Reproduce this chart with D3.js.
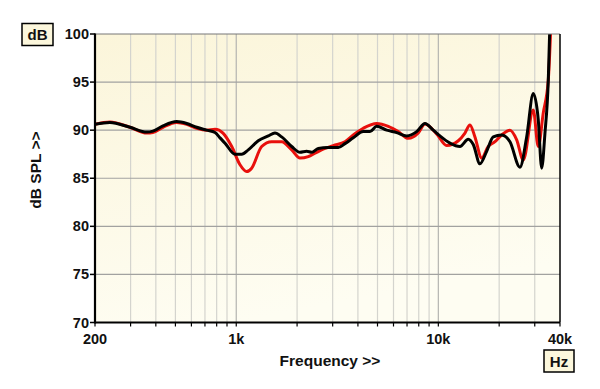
<!DOCTYPE html>
<html>
<head>
<meta charset="utf-8">
<script src="https://cdn.jsdelivr.net/npm/d3@7"></script>
<style>
  body { margin: 0; background: #fff; }
  svg text { font-family: "Liberation Sans", Arial, sans-serif; font-weight: bold; fill: #111; }
</style>
</head>
<body>
<svg id="chart"></svg>
<script>
// frequency (Hz) / level (dB)
const blackFreq = [200, 237, 298, 361, 387, 434, 507, 569, 637, 714, 785, 831, 880, 986, 1064, 1147, 1285, 1441, 1555, 1678, 1881, 2067, 2231, 2362, 2546, 2854, 3198, 3451, 3793, 4253, 4590, 4953, 5551, 6221, 6971, 7813, 8590, 9440, 10186, 11418, 12794, 14064, 14888, 16070, 17344, 18700, 20580, 22620, 25340, 27360, 29500, 31220, 32460, 33700, 35000, 35600]
const blackDb = [90.6, 90.8, 90.3, 89.8, 89.9, 90.45, 90.9, 90.7, 90.3, 90.0, 89.75, 89.2, 88.65, 87.5, 87.5, 87.95, 88.9, 89.4, 89.7, 89.3, 88.3, 87.7, 87.8, 87.7, 88.1, 88.2, 88.2, 88.6, 89.2, 89.85, 89.85, 90.4, 90.0, 89.75, 89.4, 89.85, 90.7, 90.0, 89.4, 88.65, 88.3, 89.05, 88.5, 86.5, 87.8, 89.3, 89.5, 88.8, 86.15, 89.3, 93.8, 91.1, 86.05, 89.7, 95.2, 100.6]

const redFreq = [200, 237, 298, 361, 387, 434, 507, 569, 637, 714, 785, 860, 950, 1044, 1126, 1192, 1336, 1497, 1678, 1881, 2067, 2272, 2453, 2748, 3021, 3451, 3793, 4253, 4953, 5653, 6334, 7100, 7958, 8590, 9811, 11000, 12554, 13544, 14340, 15178, 16384, 17662, 19064, 20580, 22620, 24420, 26320, 29500, 31220, 33060, 35000, 36000]
const redDb = [90.6, 90.85, 90.3, 89.7, 89.75, 90.3, 90.8, 90.6, 90.2, 90.0, 90.1, 89.7, 88.3, 86.4, 85.7, 86.05, 88.3, 88.8, 88.8, 87.95, 87.1, 87.25, 87.6, 88.1, 88.4, 88.8, 89.5, 90.2, 90.7, 90.4, 89.85, 89.15, 89.7, 90.65, 89.6, 88.4, 88.9, 89.7, 90.55, 89.3, 87.1, 88.3, 88.8, 89.5, 90.0, 89.0, 86.9, 92.1, 88.3, 91.8, 95.2, 100.6]

const yTicks = [70, 75, 80, 85, 90, 95, 100]
const xGrid = [300, 400, 500, 600, 700, 800, 900, 1000, 2000, 3000, 4000, 5000, 6000, 7000, 8000, 9000, 10000, 20000, 30000]
const xLabels = [[200, "200"], [1000, "1k"], [10000, "10k"], [40000, "40k"]]

const width = 600, height = 389
const m = {left: 95, right: 560, top: 34, bottom: 322.5}

const svg = d3.select("#chart").attr("width", width).attr("height", height)

const x = d3.scaleLog().domain([200, 40000]).range([m.left, m.right])
const y = d3.scaleLinear().domain([70, 100]).range([m.bottom, m.top])

// cream background, a bit paler towards the bottom
const defs = svg.append("defs")
const grad = defs.append("linearGradient")
  .attr("id", "bg").attr("x1", 0).attr("y1", 0).attr("x2", 0.3).attr("y2", 1)
grad.append("stop").attr("offset", "0%").attr("stop-color", "#fbf5da")
grad.append("stop").attr("offset", "100%").attr("stop-color", "#fefdf2")
defs.append("clipPath").attr("id", "clip")
  .append("rect").attr("x", m.left).attr("y", m.top).attr("width", m.right - m.left).attr("height", m.bottom - m.top)

svg.append("rect")
  .attr("x", m.left).attr("y", m.top).attr("width", m.right - m.left).attr("height", m.bottom - m.top)
  .attr("fill", "url(#bg)")

// grid
svg.append("g").selectAll("line").data(xGrid).join("line")
  .attr("x1", d => x(d)).attr("x2", d => x(d))
  .attr("y1", m.top).attr("y2", m.bottom)
  .attr("stroke", d => (d === 1000 || d === 10000) ? "#b4b4b0" : "#d4d4ce")
  .attr("stroke-width", 1.2)
svg.append("g").selectAll("line").data(yTicks.slice(1, -1)).join("line")
  .attr("x1", m.left).attr("x2", m.right)
  .attr("y1", d => y(d)).attr("y2", d => y(d))
  .attr("stroke", "#a2a2a0").attr("stroke-width", 1.2)

// curves
const line = d3.line().curve(d3.curveMonotoneX).x(d => x(d[0])).y(d => y(d[1]))
const plot = svg.append("g").attr("clip-path", "url(#clip)")
plot.append("path").datum(d3.zip(redFreq, redDb))
  .attr("d", line).attr("fill", "none").attr("stroke", "#e8100c").attr("stroke-width", 3)
  .attr("stroke-linejoin", "round")
plot.append("path").datum(d3.zip(blackFreq, blackDb))
  .attr("d", line).attr("fill", "none").attr("stroke", "#000").attr("stroke-width", 3)
  .attr("stroke-linejoin", "round")

// frame
svg.append("line").attr("x1", m.left).attr("x2", m.right).attr("y1", m.top).attr("y2", m.top)
  .attr("stroke", "#777").attr("stroke-width", 1)
svg.append("line").attr("x1", m.right).attr("x2", m.right).attr("y1", m.top).attr("y2", m.bottom)
  .attr("stroke", "#000").attr("stroke-width", 1.5)
svg.append("line").attr("x1", m.left).attr("x2", m.left).attr("y1", m.top - 0.5).attr("y2", m.bottom + 1)
  .attr("stroke", "#000").attr("stroke-width", 2.2)
svg.append("line").attr("x1", m.left).attr("x2", m.right).attr("y1", m.bottom).attr("y2", m.bottom)
  .attr("stroke", "#000").attr("stroke-width", 2.2)

// y axis ticks + labels
const yAx = svg.append("g")
yAx.selectAll("line").data(yTicks).join("line")
  .attr("x1", m.left - 5).attr("x2", m.left).attr("y1", d => y(d)).attr("y2", d => y(d))
  .attr("stroke", "#000").attr("stroke-width", 1.5)
yAx.selectAll("text").data(yTicks).join("text")
  .attr("x", m.left - 6).attr("y", d => y(d) + 5)
  .attr("text-anchor", "end").attr("font-size", 14.5)
  .text(d => d)

// x ticks
svg.append("g").selectAll("line").data([200, ...xGrid, 40000]).join("line")
  .attr("x1", d => x(d)).attr("x2", d => x(d))
  .attr("y1", m.bottom).attr("y2", m.bottom + 4)
  .attr("stroke", "#000").attr("stroke-width", 1.2)
svg.append("g").selectAll("text").data(xLabels).join("text")
  .attr("x", d => x(d[0])).attr("y", 344)
  .attr("text-anchor", "middle").attr("font-size", 14.5)
  .text(d => d[1])

// axis titles
svg.append("text").attr("x", 330).attr("y", 366).attr("text-anchor", "middle")
  .attr("font-size", 15.5).text("Frequency >>")
svg.append("text").attr("transform", "translate(41,170) rotate(-90)")
  .attr("text-anchor", "middle").attr("font-size", 15.5).text("dB SPL >>")

// unit boxes
function unitBox(cx, cy, w, h, label) {
  svg.append("rect").attr("x", cx - w / 2).attr("y", cy - h / 2).attr("width", w).attr("height", h)
    .attr("fill", "#fcf7dc").attr("stroke", "#000").attr("stroke-width", 1.5)
  svg.append("text").attr("x", cx).attr("y", cy + 5.5).attr("text-anchor", "middle")
    .attr("font-size", 15).text(label)
}
unitBox(37.5, 34.5, 31, 22, "dB")
unitBox(559, 361, 30, 22, "Hz")
</script>
</body>
</html>
